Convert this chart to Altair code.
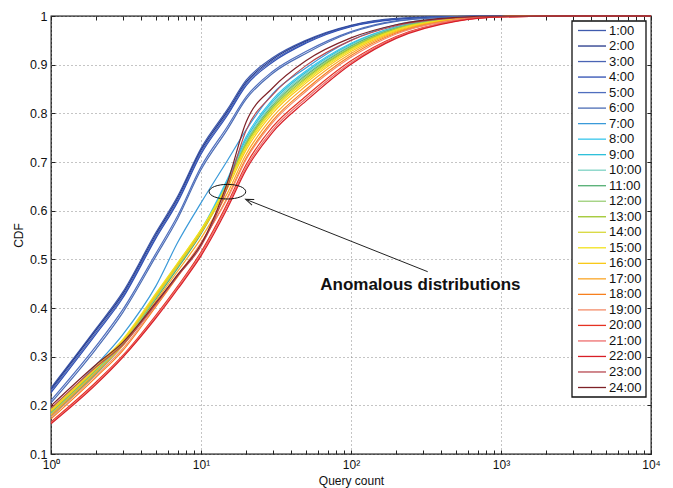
import altair as alt
import pandas as pd

# ---------------- data ----------------
HOURS = ["1:00", "2:00", "3:00", "4:00", "5:00", "6:00", "7:00", "8:00",
         "9:00", "10:00", "11:00", "12:00", "13:00", "14:00", "15:00", "16:00",
         "17:00", "18:00", "19:00", "20:00", "21:00", "22:00", "23:00", "24:00"]

COLORS = ["#3F5BAE", "#23378A", "#4A64B4", "#2E4EB3", "#4F6EBE", "#4C6DB5",
          "#3A9AD9", "#38C6EC", "#2FC0DA", "#7ED2C4", "#52AE72", "#9CCF78",
          "#9DC62A", "#D8D83A", "#F2E21C", "#F9C91A", "#FBA626", "#F7801E",
          "#F48C6A", "#E53222", "#EE6E6E", "#D81E26", "#B84A52", "#7E2228"]

X_COUNTS = [1, 2, 3, 5, 7, 10, 15, 20, 30, 50, 100, 200, 500, 1000, 3000, 10000]

H01 = [0.236, 0.358, 0.432, 0.555, 0.630, 0.728, 0.808, 0.868, 0.914, 0.950, 0.981, 0.995, 0.999, 1.0, 1.0, 1.0]
H02 = [0.233, 0.355, 0.428, 0.551, 0.626, 0.724, 0.804, 0.864, 0.911, 0.948, 0.980, 0.994, 0.999, 1.0, 1.0, 1.0]
H03 = [0.230, 0.351, 0.424, 0.547, 0.622, 0.720, 0.800, 0.861, 0.908, 0.946, 0.979, 0.994, 0.999, 1.0, 1.0, 1.0]
H04 = [0.226, 0.347, 0.420, 0.543, 0.618, 0.716, 0.796, 0.857, 0.905, 0.944, 0.978, 0.993, 0.999, 1.0, 1.0, 1.0]
H05 = [0.210, 0.322, 0.396, 0.512, 0.590, 0.690, 0.773, 0.834, 0.886, 0.927, 0.968, 0.990, 0.998, 1.0, 1.0, 1.0]
H06 = [0.205, 0.316, 0.390, 0.506, 0.584, 0.684, 0.767, 0.829, 0.882, 0.923, 0.966, 0.989, 0.998, 1.0, 1.0, 1.0]
H07 = [0.190, 0.283, 0.345, 0.445, 0.535, 0.616, 0.703, 0.766, 0.840, 0.893, 0.950, 0.982, 0.997, 1.0, 1.0, 1.0]
H08 = [0.185, 0.272, 0.328, 0.425, 0.490, 0.560, 0.665, 0.752, 0.828, 0.887, 0.944, 0.978, 0.996, 0.999, 1.0, 1.0]
H09 = [0.181, 0.268, 0.325, 0.422, 0.487, 0.557, 0.661, 0.747, 0.824, 0.884, 0.942, 0.977, 0.996, 0.999, 1.0, 1.0]
H10 = [0.176, 0.265, 0.322, 0.420, 0.485, 0.555, 0.658, 0.743, 0.820, 0.881, 0.940, 0.976, 0.995, 0.999, 1.0, 1.0]
H11 = [0.178, 0.266, 0.323, 0.418, 0.482, 0.552, 0.654, 0.739, 0.816, 0.878, 0.938, 0.975, 0.995, 0.999, 1.0, 1.0]
H12 = [0.182, 0.270, 0.326, 0.422, 0.486, 0.556, 0.656, 0.738, 0.814, 0.875, 0.936, 0.974, 0.995, 0.999, 1.0, 1.0]
H13 = [0.186, 0.274, 0.330, 0.426, 0.490, 0.558, 0.655, 0.736, 0.811, 0.872, 0.934, 0.973, 0.994, 0.999, 1.0, 1.0]
H14 = [0.190, 0.278, 0.333, 0.428, 0.492, 0.560, 0.654, 0.733, 0.808, 0.869, 0.932, 0.972, 0.994, 0.999, 1.0, 1.0]
H15 = [0.192, 0.280, 0.335, 0.430, 0.493, 0.561, 0.652, 0.730, 0.805, 0.866, 0.930, 0.971, 0.994, 0.999, 1.0, 1.0]
H16 = [0.188, 0.276, 0.331, 0.425, 0.488, 0.555, 0.646, 0.725, 0.800, 0.862, 0.927, 0.969, 0.993, 0.999, 1.0, 1.0]
H17 = [0.180, 0.268, 0.322, 0.414, 0.476, 0.543, 0.636, 0.716, 0.792, 0.856, 0.923, 0.967, 0.993, 0.999, 1.0, 1.0]
H18 = [0.172, 0.258, 0.312, 0.403, 0.465, 0.533, 0.627, 0.708, 0.785, 0.849, 0.919, 0.965, 0.992, 0.999, 1.0, 1.0]
H19 = [0.176, 0.262, 0.316, 0.406, 0.467, 0.534, 0.625, 0.705, 0.781, 0.845, 0.915, 0.963, 0.992, 0.999, 1.0, 1.0]
H20 = [0.166, 0.248, 0.302, 0.385, 0.445, 0.515, 0.615, 0.695, 0.772, 0.835, 0.908, 0.958, 0.990, 0.998, 1.0, 1.0]
H21 = [0.164, 0.245, 0.300, 0.382, 0.442, 0.511, 0.610, 0.689, 0.766, 0.830, 0.904, 0.956, 0.990, 0.998, 1.0, 1.0]
H22 = [0.162, 0.243, 0.298, 0.379, 0.439, 0.507, 0.605, 0.684, 0.761, 0.825, 0.901, 0.954, 0.989, 0.998, 1.0, 1.0]
H23 = [0.194, 0.279, 0.324, 0.408, 0.466, 0.527, 0.648, 0.765, 0.838, 0.898, 0.950, 0.980, 0.996, 0.999, 1.0, 1.0]
H24 = [0.199, 0.284, 0.329, 0.411, 0.469, 0.531, 0.658, 0.782, 0.852, 0.908, 0.955, 0.982, 0.997, 1.0, 1.0, 1.0]

SERIES = [H01, H02, H03, H04, H05, H06, H07, H08, H09, H10, H11, H12,
          H13, H14, H15, H16, H17, H18, H19, H20, H21, H22, H23, H24]

X_DECADES = [1, 10, 100, 1000, 10000]
X_TICK_LABELS = ["10⁰", "10¹", "10²", "10³", "10⁴"]
X_MINOR = [m * 10 ** e for e in range(4) for m in range(1, 10)] + [10000]
Y_TICKS = [0.1, 0.2, 0.3, 0.4, 0.5, 0.6, 0.7, 0.8, 0.9, 1.0]

# annotation (in data coordinates)
NOTE_TEXT = ["Anomalous distributions"]
NOTE_X = [290.0]
NOTE_Y = [0.447]
ELLIPSE_X = [15.0]
ELLIPSE_Y = [0.639]
ARROW_FROM_X = [324.6]
ARROW_FROM_Y = [0.4746]
ARROW_TO_X = [19.86]
ARROW_TO_Y = [0.6233]

# ---------------- tables ----------------
rows = []
for hour, series in zip(HOURS, SERIES):
    for xv, yv in zip(X_COUNTS, series):
        rows.append({"hour": hour, "count": xv, "cdf": yv})
df = pd.DataFrame(rows)

df_note = pd.DataFrame({"x": NOTE_X, "y": NOTE_Y, "t": NOTE_TEXT})
df_ell = pd.DataFrame({"x": ELLIPSE_X, "y": ELLIPSE_Y})
df_arrow = pd.DataFrame({"x": ARROW_FROM_X, "y": ARROW_FROM_Y,
                         "x2": ARROW_TO_X, "y2": ARROW_TO_Y})
df_head = pd.DataFrame({"x": ARROW_TO_X, "y": ARROW_TO_Y})
df_leg = pd.DataFrame({"hour": HOURS})
df_box = pd.DataFrame({"k": [0]})

W, H = 600, 438
FONT = "Liberation Sans"

# legend layout (pixels, relative to the plot area)
LEG_LEFT, LEG_RIGHT, LEG_TOP, LEG_BOTTOM = 521, 595, 5, 381
LEG_SYM_X1, LEG_SYM_X2, LEG_TEXT_X = 527, 555, 558
LEG_ROW_FIRST, LEG_ROW_LAST = 14.5, 371.5

xscale = alt.Scale(type="log", domain=[1, 10000], nice=False)
yscale = alt.Scale(domain=[0.1, 1.0], nice=False, zero=False)
cscale = alt.Scale(domain=HOURS, range=COLORS)
leg_y = alt.Scale(type="point", domain=HOURS, range=[LEG_ROW_FIRST, LEG_ROW_LAST],
                  padding=0)

label_expr = ""
for i, (v, lab) in enumerate(zip(X_DECADES, X_TICK_LABELS)):
    if i < len(X_DECADES) - 1:
        label_expr += f"datum.value < {v * 3} ? '{lab}' : "
    else:
        label_expr += f"'{lab}'"

x_main = alt.Axis(orient="bottom", values=X_DECADES, labelExpr=label_expr,
                  grid=True, gridDash=[1, 3], gridColor="#8a8a8a",
                  ticks=False, tickSize=0, domain=False, labelPadding=5,
                  labelFontSize=12, labelOverlap=False, labelFlush=False,
                  title="Query count", titleFontSize=12, titleFontWeight="normal",
                  titleY=30.5, titleBaseline="alphabetic")
y_main = alt.Axis(orient="left", values=Y_TICKS, format="~g",
                  grid=True, gridDash=[1, 3], gridColor="#8a8a8a",
                  ticks=False, tickSize=0, domain=False, labelPadding=4,
                  labelFontSize=12.5, labelOverlap=False,
                  title="CDF", titleFontSize=12, titleFontWeight="normal",
                  titleX=-33, titleY=H / 2, titleAngle=270,
                  titleAlign="center", titleBaseline="middle")

lines = alt.Chart(df).mark_line(strokeWidth=1.2, interpolate="monotone").encode(
    x=alt.X("count:Q", scale=xscale, axis=x_main),
    y=alt.Y("cdf:Q", scale=yscale, axis=y_main),
    color=alt.Color("hour:N", scale=cscale, sort=HOURS, legend=None),
)

# ellipse around the anomalous crossing; carries inner ticks (bottom & left edges)
ellipse = alt.Chart(df_ell).mark_point(
    shape="M-1,0A1,0.4,0,1,0,1,0A1,0.4,0,1,0,-1,0", size=1340,
    filled=False, stroke="#111", strokeWidth=1, opacity=1,
).encode(
    x=alt.X("x:Q", scale=xscale,
            axis=alt.Axis(orient="top", offset=-H, values=X_MINOR, labels=False,
                          ticks=True, tickSize=4, tickColor="#222", domain=False,
                          grid=False, title=None)),
    y=alt.Y("y:Q", scale=yscale,
            axis=alt.Axis(orient="right", offset=-W, values=Y_TICKS, labels=False,
                          ticks=True, tickSize=4, tickColor="#222", domain=False,
                          grid=False, title=None)),
)

# arrow shaft; carries inner ticks (top & right edges)
arrow = alt.Chart(df_arrow).mark_rule(stroke="#222", strokeWidth=1).encode(
    x=alt.X("x:Q", scale=xscale,
            axis=alt.Axis(orient="bottom", offset=-H, values=X_MINOR, labels=False,
                          ticks=True, tickSize=4, tickColor="#222", domain=False,
                          grid=False, title=None)),
    y=alt.Y("y:Q", scale=yscale,
            axis=alt.Axis(orient="left", offset=-W, values=Y_TICKS, labels=False,
                          ticks=True, tickSize=4, tickColor="#222", domain=False,
                          grid=False, title=None)),
    x2="x2:Q",
    y2="y2:Q",
)

head = alt.Chart(df_head).mark_point(
    shape="M-2,-0.75L0,0L-2,0.75", size=64, angle=201.7,
    filled=False, stroke="#222", strokeWidth=1, opacity=1,
).encode(
    x=alt.X("x:Q", scale=xscale, axis=None),
    y=alt.Y("y:Q", scale=yscale, axis=None),
)

note = alt.Chart(df_note).mark_text(
    fontSize=17, fontWeight="bold", font=FONT, color="#111",
    align="center", baseline="middle",
).encode(
    x=alt.X("x:Q", scale=xscale, axis=None),
    y=alt.Y("y:Q", scale=yscale, axis=None),
    text="t:N",
)

# ---- legend box (drawn as marks, like the boxed legend of the figure) ----
leg_box = alt.Chart(df_box).mark_rect(
    fill="white", stroke="#111", strokeWidth=1.3
).encode(
    x=alt.value(LEG_LEFT), x2=alt.value(LEG_RIGHT),
    y=alt.value(LEG_TOP), y2=alt.value(LEG_BOTTOM),
)

leg_sym = alt.Chart(df_leg).mark_rule(strokeWidth=1.3).encode(
    x=alt.value(LEG_SYM_X1), x2=alt.value(LEG_SYM_X2),
    y=alt.Y("hour:N", scale=leg_y, sort=HOURS, axis=None),
    color=alt.Color("hour:N", scale=cscale, sort=HOURS, legend=None),
)

leg_txt = alt.Chart(df_leg).mark_text(
    align="left", baseline="middle", fontSize=13, font=FONT, color="#111"
).encode(
    x=alt.value(LEG_TEXT_X),
    y=alt.Y("hour:N", scale=leg_y, sort=HOURS, axis=None),
    text="hour:N",
)

chart = alt.layer(lines, ellipse, arrow, head, note, leg_box, leg_sym, leg_txt).resolve_axis(
    x="independent", y="independent"
).resolve_scale(
    y="independent"
).properties(
    width=W, height=H,
    autosize=alt.AutoSizeParams(type="none"),
    padding={"left": 43, "top": 8, "right": 14, "bottom": 34},
).configure_view(
    stroke="#111", strokeWidth=1.3
).configure_axis(
    labelFont=FONT, titleFont=FONT, labelColor="#111", titleColor="#111"
)

chart.save("out.html", embed_options={"renderer": "svg", "actions": False})
